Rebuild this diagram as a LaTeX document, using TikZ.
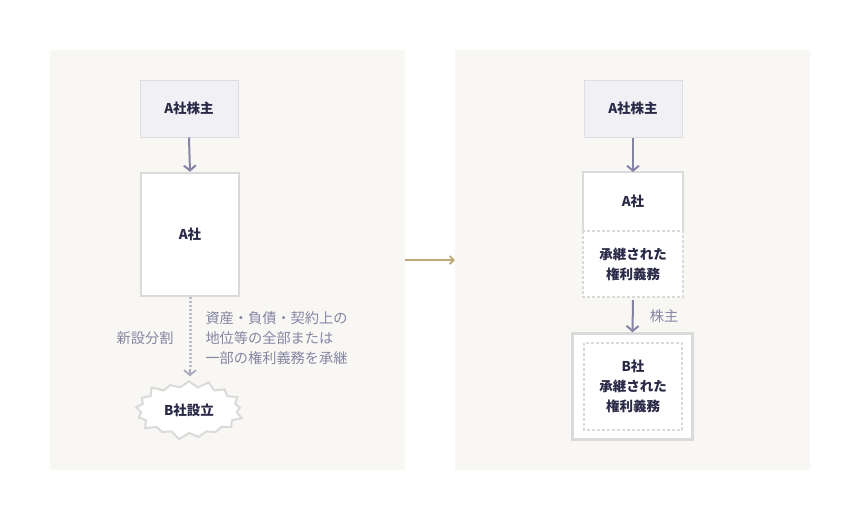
\documentclass[tikz,border=0pt]{standalone}
\usepackage{fontspec}
\setmainfont{Noto Sans CJK JP}
\usetikzlibrary{shapes.symbols,arrows.meta}
\definecolor{panel}{HTML}{F8F7F4}
\definecolor{ink}{HTML}{2A2A48}
\definecolor{lab}{HTML}{8585A3}
\definecolor{arr}{HTML}{8484A4}
\definecolor{brd}{HTML}{DADADA}
\definecolor{gold}{HTML}{BBA977}
\definecolor{hfill}{HTML}{F1F1F5}
\definecolor{hbrd}{HTML}{DCDCE2}
\tikzset{
 panelbox/.style={fill=panel,draw=none},
 holder/.style={fill=hfill,draw=hbrd,line width=1pt},
 comp/.style={fill=white,draw=brd,line width=2.5pt},
 dsh/.style={draw=brd,line width=2pt,dash pattern=on 3pt off 2pt},
 txt/.style={text=ink,font=\fontsize{13.5}{20}\selectfont\bfseries,align=center},
 ltxt/.style={text=lab,font=\fontsize{14.2}{20}\selectfont},
 arrw/.style={draw=arr,line width=2pt,-{Straight Barb[length=5pt,width=12pt]}},
}
\begin{document}
\begin{tikzpicture}[x=1pt,y=-1pt]
\useasboundingbox (0,0) rectangle (860,520);
\fill[white] (0,0) rectangle (860,520);
\fill[panelbox] (50,50) rectangle (405,470);
\fill[panelbox] (455,50) rectangle (810,470);
% left
\node[holder,txt,minimum width=98pt,minimum height=57pt] (ah1) at (189,108.5) {A社株主};
\node[comp,txt,minimum width=98pt,minimum height=123pt] (a1) at (190,234.5) {A社};
\draw[arrw] (ah1.south) -- (a1.north);
\node[starburst,starburst points=17,starburst point height=8pt,fill=white,draw=brd,line width=2pt,txt,minimum width=112pt,minimum height=62pt] (b1) at (189,410) {B社設立};
\draw[draw=arr!55,line width=3pt,dash pattern=on 2pt off 2pt] (a1.south) -- ++(0,72) coordinate (dd);
\draw[draw=arr!70,line width=1.8pt,-{Straight Barb[length=5pt,width=12pt]}] (dd) -- ++(0,7) coordinate (de);
\node[ltxt,anchor=east] (l1) at (177,338) {新設分割};
\node[ltxt,anchor=west,align=left] (l2) at (202,338) {資産・負債・契約上の\\地位等の全部または\\一部の権利義務を承継};
% middle
\coordinate (m1) at (405,260); \coordinate (m2) at (455,260);
\draw[draw=gold,line width=1.8pt,-{Straight Barb[length=4pt,width=8pt]}] (m1) -- (m2);
% right
\node[holder,txt,minimum width=98pt,minimum height=57pt] (ah2) at (633,108.5) {A社株主};
\fill[white] (583,172) rectangle (683,297);
\draw[draw=brd,line width=2.5pt] (583,230) -- (583,172) -- (683,172) -- (683,230);
\node[txt] (a2) at (633,201) {A社};
\draw[dsh] (583,231) rectangle (683,297);
\node[txt] (r2) at (633,264) {承継された\\権利義務};
\coordinate (a2top) at (633,172);
\draw[arrw] (ah2.south) -- (a2top);
\node[comp,minimum width=120pt,minimum height=106pt] (bo) at (632.5,386.5) {};
\draw[dsh] (584,343) rectangle (682,430);
\node[txt] (b2) at (633,386) {B社\\承継された\\権利義務};
\coordinate (r2b) at (633,300);
\draw[arrw] (r2b) -- (bo.north);
\node[ltxt] (k) at (664,316) {株主};
\end{tikzpicture}
\end{document}
